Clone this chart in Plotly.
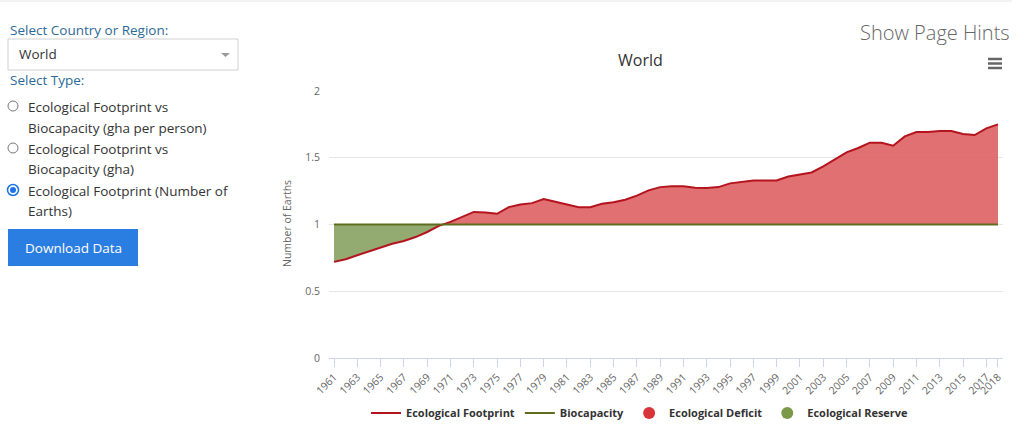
import numpy as np
import plotly.graph_objects as go

# World ecological footprint expressed as number of Earths
years = list(range(1961, 2019))
footprint = [
    0.72, 0.74, 0.77, 0.80, 0.83, 0.856, 0.876, 0.906, 0.944, 0.99,
    1.02, 1.056, 1.094, 1.09, 1.08, 1.13, 1.15, 1.16, 1.19, 1.17,
    1.15, 1.13, 1.13, 1.155, 1.166, 1.186, 1.216, 1.256, 1.28, 1.286,
    1.286, 1.276, 1.273, 1.28, 1.308, 1.32, 1.33, 1.33, 1.33, 1.36,
    1.373, 1.39, 1.436, 1.49, 1.54, 1.573, 1.613, 1.613, 1.59, 1.66,
    1.693, 1.693, 1.70, 1.70, 1.678, 1.67, 1.72, 1.75,
]
biocapacity = [1.0] * len(years)
tick_years = list(range(1961, 2018, 2)) + [2018]
y_ticks = [0, 0.5, 1, 1.5, 2]

W, H = 1024, 428
PL, PR, PT, PB = 329, 1003, 91, 358  # plot area in page pixels


def px(x):
    return (x - PL) / (PR - PL)


def py(y):
    return (PB - y) / (PB - PT)


def path(points):
    return "M " + " L ".join(f"{px(x)} {py(y)}" for x, y in points) + " Z"


# add crossing points so the deficit / reserve fills meet the line cleanly
xs, fs, bs = [], [], []
for i, (yr, f, b) in enumerate(zip(years, footprint, biocapacity)):
    if i > 0:
        d0 = footprint[i - 1] - biocapacity[i - 1]
        d1 = f - b
        if d0 * d1 < 0:
            t = d0 / (d0 - d1)
            xs.append(years[i - 1] + t)
            fs.append(biocapacity[i - 1] + t * (b - biocapacity[i - 1]))
            bs.append(fs[-1])
    xs.append(yr)
    fs.append(f)
    bs.append(b)
fs, bs = np.array(fs), np.array(bs)

RED_FILL = "rgba(221,96,98,0.9)"
GREEN_FILL = "rgba(128,156,88,0.85)"
RED_LINE = "#b5141e"
OLIVE_LINE = "#5f6e1e"

fig = go.Figure()
fig.add_trace(go.Scatter(x=xs, y=bs, mode="lines", line={"width": 0}, showlegend=False, hoverinfo="skip"))
fig.add_trace(go.Scatter(x=xs, y=np.maximum(fs, bs), mode="lines", line={"width": 0},
                         fill="tonexty", fillcolor=RED_FILL, showlegend=False, hoverinfo="skip"))
fig.add_trace(go.Scatter(x=xs, y=bs, mode="lines", line={"width": 0}, showlegend=False, hoverinfo="skip"))
fig.add_trace(go.Scatter(x=xs, y=np.minimum(fs, bs), mode="lines", line={"width": 0},
                         fill="tonexty", fillcolor=GREEN_FILL, showlegend=False, hoverinfo="skip"))
fig.add_trace(go.Scatter(x=years, y=footprint, mode="lines", name="Ecological Footprint",
                         line={"color": RED_LINE, "width": 2}))
fig.add_trace(go.Scatter(x=years, y=biocapacity, mode="lines", name="Biocapacity",
                         line={"color": OLIVE_LINE, "width": 2}))
fig.add_trace(go.Scatter(x=[None], y=[None], mode="markers", name="Ecological Deficit",
                         marker={"color": "#d9343a", "size": 12}))
fig.add_trace(go.Scatter(x=[None], y=[None], mode="markers", name="Ecological Reserve",
                         marker={"color": "#7a9a4a", "size": 12}))

label_font = {"family": "Open Sans, sans-serif", "size": 13.5, "color": "#2d6a96"}
body_font = {"family": "Open Sans, sans-serif", "size": 13.5, "color": "#333"}

annotations = [
    dict(x=px(640), y=py(60), text="World", font={"family": "Open Sans, sans-serif", "size": 16, "color": "#333"}),
    dict(x=px(1012), y=py(33), text="Show Page Hints", xanchor="right",
         font={"family": "Open Sans, sans-serif", "size": 20, "color": "#666", "weight": 300}),
    dict(x=px(287), y=py(224), text="Number of Earths", textangle=-90,
         font={"family": "Open Sans, sans-serif", "size": 10.5, "color": "#666"}),
    dict(x=px(8), y=py(30), text="Select Country or Region:", xanchor="left", font=label_font),
    dict(x=px(17), y=py(54), text="World", xanchor="left", font=body_font),
    dict(x=px(8), y=py(80), text="Select Type:", xanchor="left", font=label_font),
    dict(x=px(26), y=py(107), text="Ecological Footprint vs", xanchor="left", font=body_font),
    dict(x=px(26), y=py(128), text="Biocapacity (gha per person)", xanchor="left", font=body_font),
    dict(x=px(26), y=py(149), text="Ecological Footprint vs", xanchor="left", font=body_font),
    dict(x=px(26), y=py(169), text="Biocapacity (gha)", xanchor="left", font=body_font),
    dict(x=px(26), y=py(191), text="Ecological Footprint (Number of", xanchor="left", font=body_font),
    dict(x=px(26), y=py(211), text="Earths)", xanchor="left", font=body_font),
    dict(x=px(73), y=py(248), text="Download Data",
         font={"family": "Open Sans, sans-serif", "size": 13.5, "color": "white"}),
]
for a in annotations:
    a.update(xref="paper", yref="paper", showarrow=False)
    a.setdefault("xanchor", "center")
    a.setdefault("yanchor", "middle")


def rect(x0, y0, x1, y1, **kw):
    return dict(type="rect", xref="paper", yref="paper",
                x0=px(x0), x1=px(x1), y0=py(y0), y1=py(y1), **kw)


def circle(cx, cy, r, **kw):
    return dict(type="circle", xref="paper", yref="paper",
                x0=px(cx - r), x1=px(cx + r), y0=py(cy + r), y1=py(cy - r), **kw)


shapes = [
    dict(type="line", xref="paper", yref="paper", x0=px(0), x1=px(1012), y0=py(1), y1=py(1),
         line={"color": "#e5e5e5", "width": 1}),
    rect(8, 39, 238, 70, line={"color": "#d0d0d0", "width": 1}, fillcolor="white"),
    dict(type="path", xref="paper", yref="paper", path=path([(221, 53), (230, 53), (225.5, 57)]),
         fillcolor="#999", line={"width": 0}),
    circle(13, 106, 5, line={"color": "#767676", "width": 1}, fillcolor="white"),
    circle(13, 148, 5, line={"color": "#767676", "width": 1}, fillcolor="white"),
    circle(13, 190, 5.5, line={"color": "#1a73e8", "width": 1.5}, fillcolor="white"),
    circle(13, 190, 3, line={"width": 0}, fillcolor="#1a73e8"),
    rect(8, 229, 138, 266, line={"width": 0}, fillcolor="#2a7de1"),
]
for yy in (59, 63.5, 68):
    shapes.append(dict(type="line", xref="paper", yref="paper", x0=px(988), x1=px(1002),
                       y0=py(yy), y1=py(yy), line={"color": "#666", "width": 2.5}))

fig.update_layout(
    width=W,
    height=H,
    margin={"l": PL, "r": W - PR, "t": PT, "b": H - PB, "autoexpand": False},
    paper_bgcolor="white",
    plot_bgcolor="white",
    font={"family": "Open Sans, sans-serif", "color": "#666"},
    showlegend=True,
    legend={
        "orientation": "h",
        "traceorder": "normal",
        "x": px(640),
        "xanchor": "center",
        "y": py(413),
        "yanchor": "middle",
        "font": {"size": 11, "color": "#333", "weight": "bold"},
        "itemwidth": 30,
    },
    xaxis={
        "range": [1960.57, 2018.43],
        "tickvals": tick_years,
        "ticktext": [str(y) for y in tick_years],
        "tickangle": -45,
        "tickfont": {"size": 10.5, "color": "#666"},
        "ticks": "outside",
        "ticklen": 8,
        "tickcolor": "#ccd6eb",
        "showline": True,
        "linecolor": "#ccd6eb",
        "showgrid": False,
        "zeroline": False,
        "automargin": False,
    },
    yaxis={
        "range": [0, 2],
        "tickvals": y_ticks,
        "ticktext": ["0", "0.5", "1", "1.5", "2"],
        "tickfont": {"size": 10.5, "color": "#666"},
        "gridcolor": "#e6e6e6",
        "zeroline": False,
        "ticklabelstandoff": 8,
        "automargin": False,
    },
    annotations=annotations,
    shapes=shapes,
)

fig.write_html(
    "out.html",
    config={"displayModeBar": False},
    post_script="document.body.style.margin='0px';",
)
